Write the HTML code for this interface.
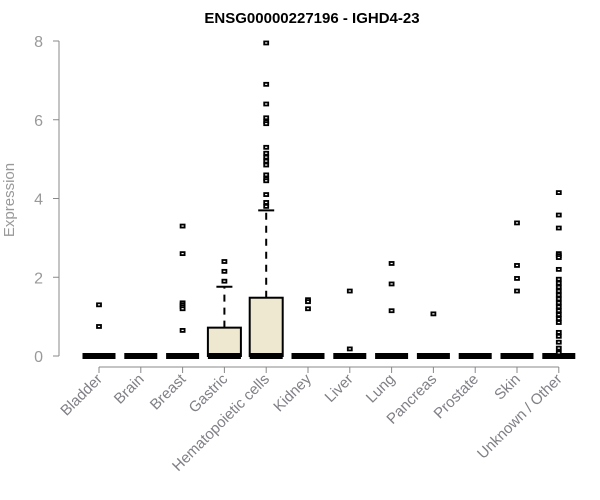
<!DOCTYPE html>
<html><head><meta charset="utf-8"><style>
body{margin:0;background:#fff}
svg{display:block;font-family:"Liberation Sans",Arial,sans-serif}
</style></head><body>
<svg id="chart" width="600" height="500">
<text x="312" y="23" text-anchor="middle" font-weight="bold" font-size="15">ENSG00000227196 - IGHD4-23</text>
<text transform="translate(14,200) rotate(-90)" text-anchor="middle" font-size="15" fill="#999">Expression</text>
</svg>
<script>
const categories=["Bladder","Brain","Breast","Gastric","Hematopoietic cells","Kidney","Liver","Lung","Pancreas","Prostate","Skin","Unknown / Other"];
const q1=[0,0,0,0,0,0,0,0,0,0,0,0];
const medians=[0,0,0,0,0,0,0,0,0,0,0,0];
const q3=[0,0,0,0.72,1.48,0,0,0,0,0,0,0];
const whiskerHi=[0,0,0,1.76,3.7,0,0,0,0,0,0,0];
const outliers=[
 [1.3,0.75],
 [],
 [3.3,2.6,1.35,1.3,1.25,1.2,0.65],
 [2.4,2.15,1.9],
 [7.95,6.9,6.4,6.05,5.95,5.9,5.3,5.15,5.05,4.95,4.85,4.6,4.5,4.45,4.1,3.9,3.8],
 [1.43,1.38,1.2],
 [1.65,0.18],
 [2.35,1.83,1.15],
 [1.07],
 [],
 [3.38,2.3,1.97,1.65],
 [4.15,3.58,3.25,2.6,2.55,2.5,2.2,1.95,1.85,1.75,1.65,1.55,1.45,1.35,1.25,1.15,1.05,0.95,0.85,0.6,0.5,0.35,0.2,0.08]
];
const yTicks=[0,2,4,6,8];
const NS="http://www.w3.org/2000/svg";
const svg=document.getElementById("chart");
const y=v=>356-v*(315/8);
const x=i=>99+41.8*i;
function mk(tag,attrs){const e=document.createElementNS(NS,tag);for(const k in attrs)e.setAttribute(k,attrs[k]);svg.appendChild(e);return e;}
let e=mk("line",{x1:59,x2:59,y1:y(0),y2:y(8),stroke:"#888"});


yTicks.forEach(t=>{
 let l=mk("line",{x1:53,x2:59,y1:y(t),y2:y(t),stroke:"#888"});
 
 
 let tx=mk("text",{x:43,y:y(t)+6,"text-anchor":"end","font-size":"16",fill:"#999"});
 tx.textContent=t;
 
 
});
e=mk("line",{x1:x(0),x2:x(11),y1:367,y2:367,stroke:"#888"});


categories.forEach((c,i)=>{
 const cx=x(i);
 let l=mk("line",{x1:cx,x2:cx,y1:367,y2:373,stroke:"#888"});
 
 
 let tx=mk("text",{transform:`translate(${cx+4},${380}) rotate(-45)`,"text-anchor":"end","font-size":"15",fill:"#7f7f86"});
 tx.textContent=c;
 
 
 const hw=16.5;
 if(whiskerHi[i]>q3[i]){
  let w=mk("line",{x1:cx,x2:cx,y1:y(q3[i]),y2:y(whiskerHi[i]),stroke:"#000","stroke-width":2,"stroke-dasharray":"7,6"});
  
  
  let cap=mk("line",{x1:cx-8,x2:cx+8,y1:y(whiskerHi[i]),y2:y(whiskerHi[i]),stroke:"#000","stroke-width":2});
  
  
 }
 if(q3[i]>q1[i]){
  let b=mk("rect",{x:cx-hw,y:y(q3[i]),width:hw*2,height:y(q1[i])-y(q3[i]),fill:"#efe8d0",stroke:"#000","stroke-width":2});
  
  
 }
 let m=mk("line",{x1:cx-hw,x2:cx+hw,y1:y(medians[i]),y2:y(medians[i]),stroke:"#000","stroke-width":6});
 
 
 outliers[i].forEach(v=>{
  let p=mk("rect",{x:cx-2,y:y(v)-1.5,width:4,height:3,fill:"#fff",stroke:"#000","stroke-width":1.8});
  
  
 });
});
</script>
</body></html>
